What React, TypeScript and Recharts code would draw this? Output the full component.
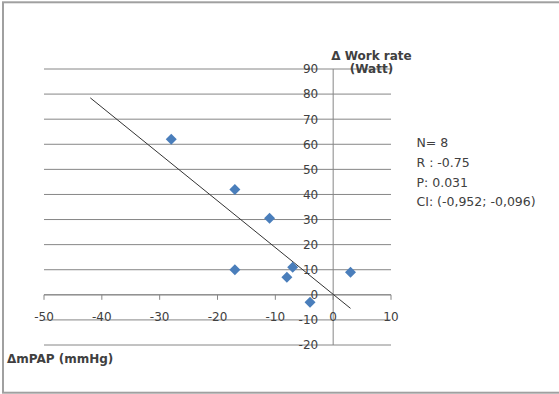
import React from "react";
import { ScatterChart, Scatter, XAxis, YAxis, CartesianGrid, ReferenceLine } from "recharts";

const xValues = [-28, -17, -11, -17, -8, -7, -4, 3];
const yValues = [62, 42, 30.5, 10, 7, 11, -3, 9];
const trendX = [-42, 3];
const trendY = [78.5, -5.4];
const xTicks = [-50, -40, -30, -20, -10, 0, 10];
const yTicks = [-20, -10, 0, 10, 20, 30, 40, 50, 60, 70, 80, 90];
const statsLines = ["N= 8", "R : -0.75", "P: 0.031", "CI: (-0,952; -0,096)"];
const yTitleLines = ["Δ Work rate", "(Watt)"];
const xTitle = "ΔmPAP (mmHg)";

const W = 559;
const H = 394;
const AXIS_H = 30;
const AXIS_W = 30;
const PLOT = { top: 69, right: 168, bottom: 49, left: 44 };
const M = { top: PLOT.top, right: PLOT.right, bottom: PLOT.bottom - AXIS_H, left: PLOT.left - AXIS_W };
const XMIN = -50, XMAX = 10, YMIN = -20, YMAX = 90;
const PLOT_W = W - PLOT.left - PLOT.right;
const PLOT_H = H - PLOT.top - PLOT.bottom;
const X0 = PLOT.left + ((0 - XMIN) / (XMAX - XMIN)) * PLOT_W;
const Y0 = PLOT.top + ((YMAX - 0) / (YMAX - YMIN)) * PLOT_H;

const FONT = "'DejaVu Sans', sans-serif";
const TEXT = "#404040";
const GRID = "#868686";
const BLUE = "#4A7EBB";

const points = xValues.map((x, i) => ({ x, y: yValues[i] }));

const XTick = (props: any) => {
  const { x, payload } = props;
  return (
    <g>
      <line x1={x} x2={x} y1={Y0} y2={Y0 + 5} stroke={GRID} strokeWidth={1} />
      <text x={x} y={Y0 + 26} textAnchor="middle" fontFamily={FONT} fontSize={12} fill={TEXT}>
        {payload.value}
      </text>
    </g>
  );
};

const YTick = (props: any) => {
  const { y, payload } = props;
  return (
    <text x={X0 - 15} y={y + 4.4} textAnchor="end" fontFamily={FONT} fontSize={12} fill={TEXT}>
      {payload.value}
    </text>
  );
};

const Diamond = (props: any) => {
  const { cx, cy } = props;
  const r = 5.5;
  return (
    <polygon
      points={`${cx},${cy - r} ${cx + r},${cy} ${cx},${cy + r} ${cx - r},${cy}`}
      fill={BLUE}
    />
  );
};

export default function App() {
  return (
    <div style={{ position: "fixed", left: 0, top: 0, width: W, height: H, background: "#fff" }}>
      <ScatterChart width={W} height={H} margin={M}>
        <CartesianGrid vertical={false} stroke={GRID} strokeDasharray="" />
        <XAxis
          type="number"
          dataKey="x"
          domain={[XMIN, XMAX]}
          ticks={xTicks}
          height={AXIS_H}
          axisLine={false}
          tickLine={false}
          tick={XTick}
          interval={0}
          allowDataOverflow
        />
        <YAxis
          type="number"
          dataKey="y"
          domain={[YMIN, YMAX]}
          ticks={yTicks}
          width={AXIS_W}
          axisLine={false}
          tickLine={false}
          tick={YTick}
          interval={0}
          allowDataOverflow
        />
        <ReferenceLine x={0} stroke={GRID} strokeWidth={1} />
        <ReferenceLine y={0} stroke={GRID} strokeWidth={1} />
        <ReferenceLine
          segment={[
            { x: trendX[0], y: trendY[0] },
            { x: trendX[1], y: trendY[1] },
          ]}
          stroke="#333333"
          strokeWidth={1}
          ifOverflow="visible"
        />
        <Scatter data={points} shape={<Diamond />} isAnimationActive={false} />
      </ScatterChart>
      <svg
        width={W}
        height={H}
        style={{ position: "absolute", left: 0, top: 0, pointerEvents: "none" }}
      >
        <rect x={3} y={2.3} width={600} height={390.4} fill="none" stroke="#a0a0a0" strokeWidth={2} />
        <text x={371.5} y={59.5} textAnchor="middle" fontFamily={FONT} fontSize={12} fontWeight="bold" fill={TEXT}>
          {yTitleLines[0]}
        </text>
        <text x={371.5} y={73} textAnchor="middle" fontFamily={FONT} fontSize={12} fontWeight="bold" fill={TEXT}>
          {yTitleLines[1]}
        </text>
        <text x={7} y={363.3} fontFamily={FONT} fontSize={12} fontWeight="bold" fill={TEXT}>
          {xTitle}
        </text>
        {statsLines.map((s, i) => (
          <text key={i} x={416.5} y={147.2 + i * 19.7} fontFamily={FONT} fontSize={12.5} fill={TEXT}>
            {s}
          </text>
        ))}
      </svg>
    </div>
  );
}
